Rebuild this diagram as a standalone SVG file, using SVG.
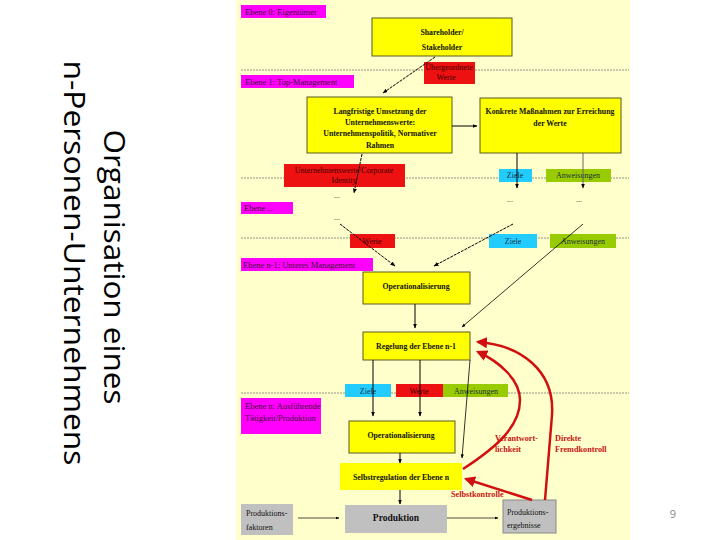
<svg xmlns="http://www.w3.org/2000/svg" width="720" height="540" viewBox="0 0 720 540">
<defs>
<style>
.bg{fill:#FFFFCC}
.yb{fill:#FFFF00;stroke:#5a5a20;stroke-width:1}
.rb{fill:#EE1111}
.mb{fill:#FF00FF}
.cb{fill:#22CCFF}
.gb{fill:#99CC00}
.gr{fill:#C0C0C0;stroke:#888;stroke-width:1}
.t{font-family:"Liberation Serif",serif;font-size:8px;fill:#111}
.tb{font-family:"Liberation Serif",serif;font-size:7.8px;font-weight:bold;fill:#111;text-anchor:middle}
.tm{font-family:"Liberation Serif",serif;font-size:8.5px;fill:#401030}
.tr{font-family:"Liberation Serif",serif;font-size:8px;fill:#400000;text-anchor:middle}
.tc{font-family:"Liberation Serif",serif;font-size:8px;fill:#203040;text-anchor:middle}
.lbl{font-family:"Liberation Serif",serif;font-size:8.2px;font-weight:bold;fill:#CC1111}
.dash{stroke:#777;stroke-width:0.8;stroke-dasharray:2,1;fill:none}
.ln{stroke:#000;stroke-width:1;fill:none}
.lnd{stroke:#000;stroke-width:1;fill:none;stroke-dasharray:3,1}
.red{stroke:#D01010;stroke-width:2.5;fill:none}
.title{font-family:"Open Sans","Liberation Sans",sans-serif;font-size:30px;fill:#000}
</style>
<marker id="a" viewBox="0 0 10 10" refX="9" refY="5" markerWidth="5" markerHeight="5" orient="auto"><path d="M0,1 L10,5 L0,9 z" fill="#000"/></marker>
<marker id="ar" viewBox="0 0 10 10" refX="8" refY="5" markerWidth="4.5" markerHeight="4.5" orient="auto"><path d="M0,0 L10,5 L0,10 z" fill="#D01010"/></marker>
</defs>
<rect x="0" y="0" width="720" height="540" fill="#fff"/>
<g id="title">
<text class="title" transform="translate(104,267) rotate(90)" text-anchor="middle" textLength="275" lengthAdjust="spacingAndGlyphs">Organisation eines</text>
<text class="title" transform="translate(64,263) rotate(90)" text-anchor="middle" textLength="405" lengthAdjust="spacingAndGlyphs">n-Personen-Unternehmens</text>
</g>
<rect class="bg" x="236" y="0" width="394" height="540"/>
<g id="levels">
<line class="dash" x1="241" y1="70" x2="629" y2="70"/>
<line class="dash" x1="241" y1="178" x2="629" y2="178"/>
<line class="dash" x1="241" y1="238" x2="629" y2="238"/>
<line class="dash" x1="241" y1="393" x2="629" y2="393"/>
</g>
<g id="ebene0"><rect class="mb" x="241" y="5" width="85" height="13"/><text class="tm" x="245" y="14.5">Ebene 0: Eigentümer</text></g>
<g id="ebene1"><rect class="mb" x="241" y="75" width="113" height="13"/><text class="tm" x="245" y="84.5">Ebene 1: Top-Management</text></g>
<g id="ebeneX"><rect class="mb" x="241" y="202" width="52" height="12"/><text class="tm" x="244" y="211">Ebene ...</text></g>
<g id="ebeneN1"><rect class="mb" x="241" y="258" width="132" height="13"/><text class="tm" x="243" y="268">Ebene n-1: Unteres Management</text></g>
<g id="ebeneN"><rect class="mb" x="241" y="398" width="80" height="36"/><text class="tm" x="245" y="409">Ebene n: Ausführende</text><text class="tm" x="245" y="421">Tätigkeit/Produktion</text></g>

<g id="shareholder"><rect class="yb" x="372" y="18" width="140" height="38"/><text class="tb" x="442" y="35">Shareholder/</text><text class="tb" x="442" y="50">Stakeholder</text></g>
<g id="werte0"><rect class="rb" x="424" y="62" width="51" height="22"/><text class="tr" x="449" y="70">Übergeordnete</text><text class="tr" x="446" y="80">Werte</text></g>
<g id="langfristig"><rect class="yb" x="307" y="97" width="145" height="56"/><text class="tb" x="380" y="114">Langfristige Umsetzung der</text><text class="tb" x="380" y="125">Unternehmenswerte:</text><text class="tb" x="380" y="136">Unternehmenspolitik, Normativer</text><text class="tb" x="380" y="148">Rahmen</text></g>
<g id="konkret"><rect class="yb" x="480" y="98" width="141" height="55"/><text class="tb" x="550" y="114">Konkrete Maßnahmen zur Erreichung</text><text class="tb" x="550" y="126">der Werte</text></g>
<g id="corporate"><rect class="rb" x="284" y="164" width="121" height="23"/><text class="tr" x="344" y="173">Unternehmenswerte/Corporate</text><text class="tr" x="344" y="183">Identity</text></g>
<g id="ziele1"><rect class="cb" x="499" y="169" width="33" height="13"/><text class="tc" x="515" y="178">Ziele</text></g>
<g id="anw1"><rect class="gb" x="546" y="169" width="65" height="13"/><text class="tc" x="578" y="178">Anweisungen</text></g>
<g id="dots"><text class="t" x="334" y="198">...</text><text class="t" x="507" y="202">...</text><text class="t" x="576" y="202">...</text><text class="t" x="334" y="220">...</text></g>
<g id="werte1"><rect class="rb" x="350" y="234" width="45" height="14"/><text class="tr" x="372" y="244">Werte</text></g>
<g id="ziele2"><rect class="cb" x="489" y="234" width="48" height="14"/><text class="tc" x="513" y="244">Ziele</text></g>
<g id="anw2"><rect class="gb" x="550" y="234" width="66" height="14"/><text class="tc" x="583" y="244">Anweisungen</text></g>
<g id="oper1"><rect class="yb" x="363" y="272" width="107" height="32"/><text class="tb" x="416" y="289">Operationalisierung</text></g>
<g id="regelung"><rect class="yb" x="363" y="332" width="107" height="28"/><text class="tb" x="416" y="349">Regelung der Ebene n-1</text></g>
<g id="ziele3"><rect class="cb" x="345" y="384" width="46" height="13"/><text class="tc" x="368" y="393.5">Ziele</text></g>
<g id="werte3"><rect class="rb" x="396" y="384" width="47" height="13"/><text class="tr" x="419" y="393.5">Werte</text></g>
<g id="anw3"><rect class="gb" x="443" y="384" width="65" height="13"/><text class="tc" x="476" y="393.5">Anweisungen</text></g>
<g id="oper2"><rect class="yb" x="349" y="421" width="106" height="32"/><text class="tb" x="401" y="438">Operationalisierung</text></g>
<g id="selbstreg"><rect class="yb" x="340" y="463" width="122" height="27" style="stroke:none"/><text class="tb" x="401" y="480">Selbstregulation der Ebene n</text></g>
<g id="faktoren"><rect class="gr" x="241" y="504" width="52" height="31" style="stroke:none"/><text class="t" x="246" y="516">Produktions-</text><text class="t" x="246" y="530">faktoren</text></g>
<g id="produktion"><rect class="gr" x="345" y="505" width="102" height="28" style="stroke:none"/><text class="tb" x="396" y="521" style="font-size:9.5px">Produktion</text></g>
<g id="ergebnisse"><rect class="gr" x="503" y="500" width="53" height="33"/><text class="t" x="507" y="515">Produktions-</text><text class="t" x="507" y="528">ergebnisse</text></g>

<g id="connectors">
<line class="lnd" x1="435" y1="57" x2="383" y2="93" marker-end="url(#a)"/>
<line class="ln" x1="452" y1="126" x2="477" y2="126" marker-end="url(#a)"/>
<line class="lnd" x1="362" y1="154" x2="354" y2="193" marker-end="url(#a)"/>
<line class="ln" x1="517" y1="153" x2="517" y2="188" marker-end="url(#a)"/>
<line class="ln" x1="583" y1="153" x2="583" y2="188" marker-end="url(#a)" style="stroke:#666"/>
<line class="lnd" x1="340" y1="224" x2="395" y2="266" marker-end="url(#a)"/>
<line class="lnd" x1="513" y1="224" x2="434" y2="266" marker-end="url(#a)"/>
<line class="ln" x1="583" y1="224" x2="462" y2="327" marker-end="url(#a)" style="stroke-width:0.8"/>
<line class="ln" x1="415" y1="304" x2="415" y2="328" marker-end="url(#a)"/>
<line class="ln" x1="373" y1="360" x2="373" y2="416" marker-end="url(#a)"/>
<line class="ln" x1="420" y1="360" x2="420" y2="416" marker-end="url(#a)"/>
<line class="ln" x1="470" y1="360" x2="462" y2="458" marker-end="url(#a)" style="stroke-width:0.8"/>
<line class="ln" x1="400" y1="453" x2="400" y2="463" marker-end="url(#a)"/>
<line class="ln" x1="400" y1="490" x2="400" y2="504" marker-end="url(#a)"/>
<line class="ln" x1="298" y1="518" x2="339" y2="518" marker-end="url(#a)" style="stroke-width:0.7"/>
<line class="ln" x1="447" y1="518" x2="498" y2="518" marker-end="url(#a)" style="stroke-width:0.7"/>
<line class="red" x1="532" y1="500" x2="466" y2="479" marker-end="url(#ar)"/>
<path class="red" d="M463,469 C500,445 520,425 520,400 C520,380 500,362 478,352" marker-end="url(#ar)"/>
<path class="red" d="M545,500 L552,415 C555,370 520,345 478,342" marker-end="url(#ar)"/>
</g>
<g id="labels">
<text class="lbl" x="495" y="441">Verantwort-</text><text class="lbl" x="495" y="452">lichkeit</text>
<text class="lbl" x="555" y="441">Direkte</text><text class="lbl" x="555" y="452">Fremdkontroll</text>
<text class="lbl" x="451" y="497">Selbstkontrolle</text>
</g>
<text x="673" y="518" style="font-family:'Open Sans','Liberation Sans',sans-serif;font-size:11px;fill:#888" text-anchor="middle">9</text>
</svg>
